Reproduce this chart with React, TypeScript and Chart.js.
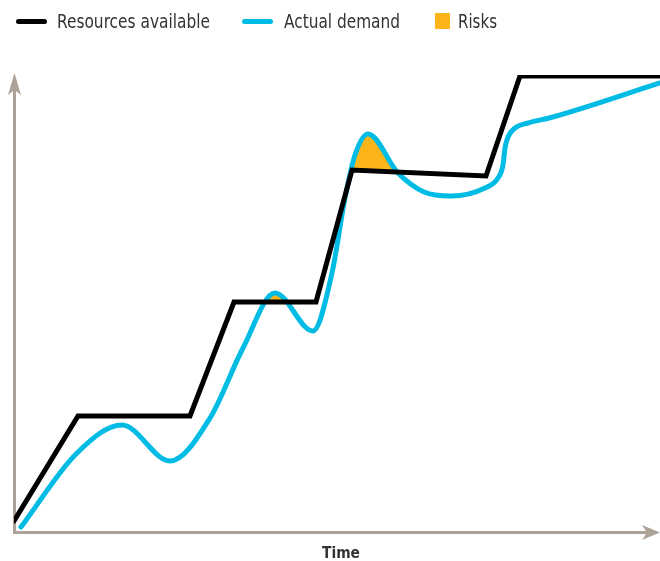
import React, { useEffect, useLayoutEffect, useRef } from "react";
import { Chart, registerables } from "chart.js";

Chart.register(...registerables);

// ---- data (abstract units: time 0..646, capacity 0..458) ----
const seriesNames = ["Resources available", "Actual demand", "Risks"];
const xTitle = "Time";

const resourceX = [0, 64, 176, 220, 302, 338, 472, 506, 646];
const resourceY = [12, 117, 117, 231, 231, 363, 357, 457, 457];

const demandX = [7, 63, 108, 156, 196, 229, 261, 299, 318, 331, 341, 354, 384, 410, 437, 471, 484, 489, 491, 494, 501, 514, 539, 646];
const demandY = [6, 80, 108, 72, 115, 185, 240, 202, 260, 335, 378, 399, 360, 341, 337, 345, 355, 368, 385, 396, 405, 410, 416, 450];

const X_MAX = 646;
const Y_MAX = 458;

// ---- styles ----
const BLACK = "#000000";
const CYAN = "#00BCE4";
const ORANGE = "#FBB519";
const AXIS = "#ACA297";
const TEXT = "#333333";

const axesPlugin = {
  id: "arrowAxes",
  beforeDatasetsDraw(chart: any) {
    const ctx = chart.ctx;
    const { left, right, bottom, top } = chart.chartArea;
    const x0 = left + 0.5;
    const y0 = bottom - 0.5;
    ctx.save();
    ctx.strokeStyle = AXIS;
    ctx.fillStyle = AXIS;
    ctx.lineWidth = 3;
    ctx.beginPath();
    ctx.moveTo(x0, y0 + 1.5);
    ctx.lineTo(x0, top + 12);
    ctx.moveTo(x0 - 1.5, y0);
    ctx.lineTo(right - 10, y0);
    ctx.stroke();
    // y arrow
    ctx.beginPath();
    ctx.moveTo(x0, top - 2);
    ctx.lineTo(x0 + 6.5, top + 20);
    ctx.lineTo(x0, top + 15);
    ctx.lineTo(x0 - 6.5, top + 20);
    ctx.closePath();
    ctx.fill();
    // x arrow
    ctx.beginPath();
    ctx.moveTo(right, y0);
    ctx.lineTo(right - 18, y0 - 7.5);
    ctx.lineTo(right - 13, y0);
    ctx.lineTo(right - 18, y0 + 7.5);
    ctx.closePath();
    ctx.fill();
    ctx.restore();
  },
};

function FitText({ text, left, top, width, size, weight }: any) {
  const ref = useRef<HTMLSpanElement>(null);
  useLayoutEffect(() => {
    const el = ref.current;
    if (!el) return;
    el.style.transform = "none";
    const w = el.getBoundingClientRect().width;
    if (w > 0) el.style.transform = `scaleX(${width / w})`;
  }, [text, width]);
  return (
    <span
      ref={ref}
      style={{
        position: "absolute",
        left,
        top,
        fontFamily: "'Liberation Sans Narrow', 'DejaVu Sans Condensed', 'Open Sans', sans-serif",
        fontSize: size,
        fontWeight: weight || 400,
        lineHeight: `${size}px`,
        color: TEXT,
        whiteSpace: "nowrap",
        transformOrigin: "0 0",
      }}
    >
      {text}
    </span>
  );
}

export default function App() {
  const canvasRef = useRef<HTMLCanvasElement>(null);

  useEffect(() => {
    const canvas = canvasRef.current;
    if (!canvas) return;
    const chart = new Chart(canvas, {
      type: "line",
      data: {
        datasets: [
          {
            label: seriesNames[0],
            data: resourceX.map((x, i) => ({ x, y: resourceY[i] })),
            borderColor: BLACK,
            borderWidth: 5,
            borderCapStyle: "round",
            borderJoinStyle: "miter",
            pointRadius: 0,
            tension: 0,
            fill: false,
          },
          {
            label: seriesNames[1],
            data: demandX.map((x, i) => ({ x, y: demandY[i] })),
            borderColor: CYAN,
            borderWidth: 5,
            borderCapStyle: "round",
            pointRadius: 0,
            cubicInterpolationMode: "monotone",
            fill: { target: 0, above: ORANGE, below: "rgba(0,0,0,0)" },
          },
        ],
      },
      options: {
        responsive: false,
        maintainAspectRatio: false,
        animation: false,
        layout: { padding: { left: 14, right: 0, top: 75, bottom: 28 } },
        plugins: {
          legend: { display: false },
          tooltip: { enabled: false },
          filler: { propagate: false },
        },
        scales: {
          x: { type: "linear", min: 0, max: X_MAX, display: false },
          y: { type: "linear", min: 0, max: Y_MAX, display: false },
        },
      },
      plugins: [axesPlugin],
    } as any);
    return () => chart.destroy();
  }, []);

  return (
    <div style={{ position: "absolute", left: 0, top: 0, width: 660, height: 561, overflow: "hidden", background: "#fff" }}>
      <canvas ref={canvasRef} width={660} height={561} style={{ position: "absolute", left: 0, top: 0 }} />
      {/* legend */}
      <div style={{ position: "absolute", left: 16, top: 18.5, width: 31, height: 5, borderRadius: 3, background: BLACK }} />
      <FitText text={seriesNames[0]} left={57} top={12} width={153} size={19} />
      <div style={{ position: "absolute", left: 242, top: 18.5, width: 31, height: 5, borderRadius: 3, background: CYAN }} />
      <FitText text={seriesNames[1]} left={284} top={12} width={116} size={19} />
      <div style={{ position: "absolute", left: 435, top: 13, width: 15, height: 16, background: ORANGE }} />
      <FitText text={seriesNames[2]} left={458} top={12} width={39} size={19} />
      <FitText text={xTitle} left={322} top={545} width={38} size={16} weight={700} />
    </div>
  );
}
